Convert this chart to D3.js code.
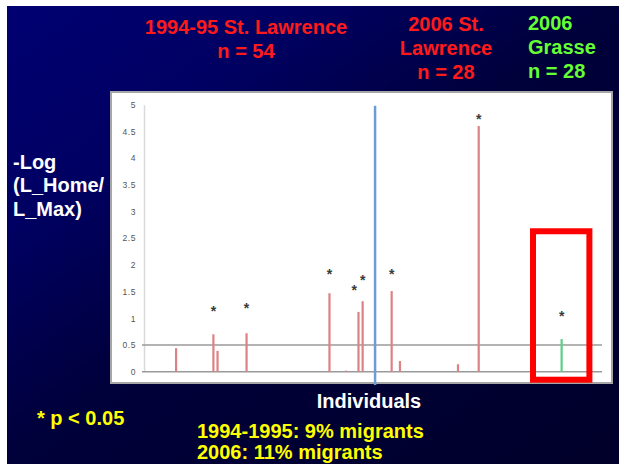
<!DOCTYPE html>
<html>
<head>
<meta charset="utf-8">
<script src="https://cdn.jsdelivr.net/npm/d3@7"></script>
<style>
  html, body { margin: 0; padding: 0; background: #ffffff; }
  svg { display: block; }
  text { font-family: "Liberation Sans", Arial, sans-serif; }
</style>
</head>
<body>
<script>
// ---------------- data ----------------
const groupNames = ["1994-95 St. Lawrence", "2006 St. Lawrence", "2006 Grasse"];
const groupSizes = [54, 28, 28];
const nIndividuals = 110;

// individual index (0-based across all 110) and -log(L_home/L_max)
const barIndex  = [7, 16, 17, 24, 44, 48, 51, 52, 59, 61, 75, 80, 100];
const barValue  = [0.44, 0.70, 0.39, 0.72, 1.47, 0.02, 1.12, 1.32, 1.51, 0.20, 0.14, 4.60, 0.61];
const barGroup  = [0, 0, 0, 0, 0, 0, 0, 0, 1, 1, 1, 1, 2];

// significant (p < 0.05) markers
const sigIndex  = [16, 24, 44, 50, 52, 59, 80, 100];
const sigValue  = [1.19, 1.24, 1.89, 1.58, 1.77, 1.88, 4.79, 1.10];

const yTicks = [0, 0.5, 1, 1.5, 2, 2.5, 3, 3.5, 4, 4.5, 5];
const yTickLabels = ["0", "0.5", "1", "1.5", "2", "2.5", "3", "3.5", "4", "4.5", "5"];
const thresholdLines = [0, 0.5];

// separator between 1994-95 and 2006 (in individual units) and highlight box
const separatorAt = 55.5;
const highlightX = [93.6, 107.2];
const highlightY = [2.63, -0.15];

const titleLines1 = ["1994-95 St. Lawrence", "n = 54"];
const titleLines2 = ["2006 St.", "Lawrence", "n = 28"];
const titleLines3 = ["2006", "Grasse", "n = 28"];
const yLabelLines = ["-Log", "(L_Home/", "L_Max)"];
const xLabel = "Individuals";
const sigNote = "* p < 0.05";
const footLines = ["1994-1995: 9% migrants", "2006: 11% migrants"];

// ---------------- drawing ----------------
const W = 619, H = 464;
const svg = d3.select("body").append("svg").attr("width", W).attr("height", H);

const defs = svg.append("defs");
const grad = defs.append("linearGradient").attr("id", "bg")
  .attr("x1", 0).attr("y1", 0).attr("x2", 1).attr("y2", 1);
[[0, "#000072"], [0.25, "#000062"], [0.5, "#00003a"], [1, "#00002a"]].forEach(s =>
  grad.append("stop").attr("offset", s[0]).attr("stop-color", s[1]));

svg.append("rect").attr("x", 7).attr("y", 6).attr("width", W - 7).attr("height", H - 6)
  .attr("fill", "url(#bg)");

// plot frame
svg.append("rect").attr("x", 111).attr("y", 92).attr("width", 501).attr("height", 291)
  .attr("fill", "#ffffff").attr("stroke", "#a6a6a6").attr("stroke-width", 2);

const x = d3.scaleBand().domain(d3.range(nIndividuals)).range([145, 601]).padding(0);
const xc = i => x(i) + x.bandwidth() / 2;
const xLin = d3.scaleLinear().domain([0, nIndividuals]).range([145, 601]);
const y = d3.scaleLinear().domain([0, 5]).range([371.7, 104.7]);

// y axis
const yAxis = d3.axisLeft(y).tickValues(yTicks)
  .tickFormat((d, i) => yTickLabels[i]).tickSize(0).tickPadding(8);
const gy = svg.append("g").attr("transform", "translate(144,0)").call(yAxis);
gy.select(".domain").attr("stroke", "#d9d9d9").attr("stroke-width", 1.5);
gy.selectAll("text").attr("font-size", 8.5).attr("fill", "#555")
  .attr("letter-spacing", 0.6).attr("font-family", "'Liberation Sans', Arial, sans-serif");

// threshold lines
svg.append("g").selectAll("line").data(thresholdLines).join("line")
  .attr("x1", 142).attr("x2", 602)
  .attr("y1", d => y(d)).attr("y2", d => y(d))
  .attr("stroke", "#9a9a9a").attr("stroke-width", 1.6);

// bars
const barColors = ["#dc8285", "#dc8285", "#5ccf86"];
svg.append("g").selectAll("rect").data(barIndex).join("rect")
  .attr("x", (d) => xc(d) - 1.1)
  .attr("width", 2.2)
  .attr("y", (d, i) => y(barValue[i]))
  .attr("height", (d, i) => y(0) - y(barValue[i]))
  .attr("fill", (d, i) => barColors[barGroup[i]]);

// significance asterisks
svg.append("g").selectAll("text").data(sigIndex).join("text")
  .attr("x", d => xc(d))
  .attr("y", (d, i) => y(sigValue[i]) + 8)
  .attr("text-anchor", "middle")
  .attr("font-size", 14).attr("font-weight", "bold").attr("fill", "#3a3a3a")
  .text("*");

// separator line
svg.append("line")
  .attr("x1", xLin(separatorAt)).attr("x2", xLin(separatorAt))
  .attr("y1", y(4.98)).attr("y2", 385)
  .attr("stroke", "#6e9bd2").attr("stroke-width", 2.5);

// highlight box
svg.append("rect")
  .attr("x", xLin(highlightX[0])).attr("y", y(highlightY[0]))
  .attr("width", xLin(highlightX[1]) - xLin(highlightX[0]))
  .attr("height", y(highlightY[1]) - y(highlightY[0]))
  .attr("fill", "none").attr("stroke", "#ff0000").attr("stroke-width", 6);

// texts
function lines(arr, xPos, yStart, dy, anchor, color, size) {
  svg.append("g").selectAll("text").data(arr).join("text")
    .attr("x", xPos).attr("y", (d, i) => yStart + i * dy)
    .attr("text-anchor", anchor).attr("font-weight", "bold")
    .attr("font-size", size).attr("fill", color).text(d => d);
}
lines(titleLines1, 246, 34, 24.4, "middle", "#ff1a1a", 20);
lines(titleLines2, 446, 31, 23.8, "middle", "#ff1a1a", 20);
lines(titleLines3, 528, 30, 24, "start", "#66ff33", 20);
lines(yLabelLines, 13, 168.5, 23.5, "start", "#ffffff", 20);
lines([xLabel], 369, 408, 0, "middle", "#ffffff", 20);
lines([sigNote], 37, 425, 0, "start", "#ffff00", 20);
lines(footLines, 197, 438, 20.5, "start", "#ffff00", 20);
</script>
</body>
</html>
